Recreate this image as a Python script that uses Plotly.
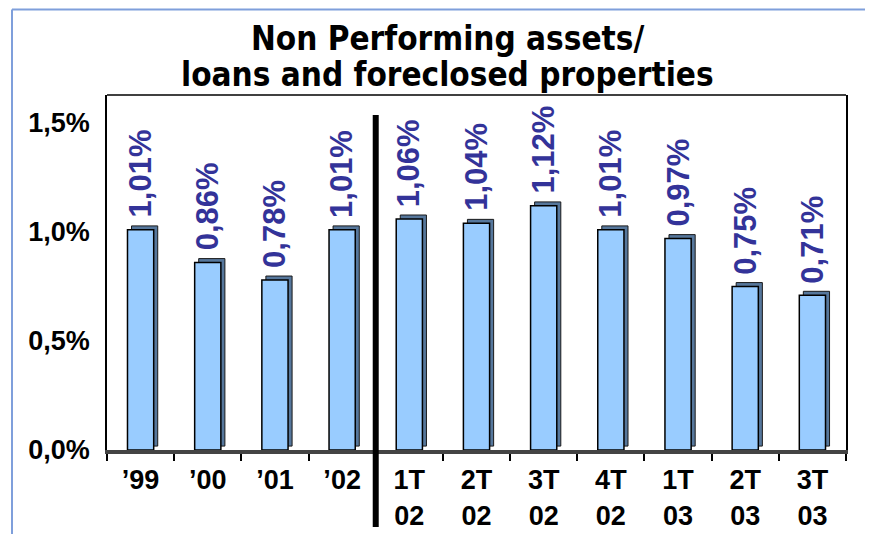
import plotly.graph_objects as go

categories = ["’99", "’00", "’01", "’02", "1T<br>02", "2T<br>02", "3T<br>02",
              "4T<br>02", "1T<br>03", "2T<br>03", "3T<br>03"]
values = [1.01, 0.86, 0.78, 1.01, 1.06, 1.04, 1.12, 1.01, 0.97, 0.75, 0.71]
value_labels = ["1,01%", "0,86%", "0,78%", "1,01%", "1,06%", "1,04%", "1,12%",
                "1,01%", "0,97%", "0,75%", "0,71%"]
y_ticks = [0.0, 0.5, 1.0, 1.5]
y_tick_labels = ["0,0%", "0,5%", "1,0%", "1,5%"]
title_lines = ["Non Performing assets/", "loans and foreclosed properties"]

W, H = 873, 534
OFF = 8  # page body margin offset
# plot area in window pixels: left 107, right 846, top 95, bottom 450
L, R, T, B = 107 - OFF, W - 846 + OFF, 95 - OFF, H - 450 + OFF
plot_h = H - T - B
plot_w = W - L - R

bar_w = 0.39
depth_x = 0.06
depth_y = 0.018

fig = go.Figure()
# 3D side/top face (drawn behind the front face)
fig.add_trace(go.Bar(
    x=categories, y=values, base=[depth_y] * len(values),
    width=bar_w, offset=-bar_w / 2 + depth_x,
    marker=dict(color="#56779C", line=dict(color="#1a1a1a", width=1)),
    hoverinfo="skip", showlegend=False,
))
# front face
fig.add_trace(go.Bar(
    x=categories, y=values,
    width=bar_w, offset=-bar_w / 2,
    marker=dict(color="#99CCFF", line=dict(color="#000000", width=1.5)),
    showlegend=False,
))

for c, v, t in zip(categories, values, value_labels):
    fig.add_annotation(
        x=c, y=v, text=t, textangle=-90, showarrow=False,
        xanchor="center", yanchor="bottom", yshift=10,
        font=dict(family="Liberation Sans, Arial", size=31, color="#333399", weight="bold"),
    )

def py(ypx):  # window pixel -> paper y
    return (H - B - (ypx - OFF)) / plot_h

def px_(xpx):  # window pixel -> paper x
    return ((xpx - OFF) - L) / plot_w

title_y = [38, 74]
for txt, yy in zip(title_lines, title_y):
    fig.add_annotation(
        x=px_(447), xref="paper", y=py(yy), yref="paper", text=txt, showarrow=False,
        xanchor="center", yanchor="middle",
        font=dict(family="DejaVu Sans Condensed, DejaVu Sans", size=33, color="#000000", weight="bold"),
    )

# divider line between annual and quarterly data
fig.add_shape(type="line", xref="x", yref="paper",
              x0=3.5, x1=3.5, y0=py(527), y1=py(115),
              line=dict(color="#000000", width=6))

# slide frame lines
fig.add_shape(type="line", xref="paper", yref="paper",
              x0=px_(12), x1=px_(W + 10), y0=py(9.5), y1=py(9.5),
              line=dict(color="#7F9FDB", width=2))
fig.add_shape(type="line", xref="paper", yref="paper",
              x0=px_(12), x1=px_(12), y0=py(9.5), y1=py(H + 10),
              line=dict(color="#7F9FDB", width=2))

fig.update_layout(
    width=W, height=H,
    margin=dict(l=L, r=R, t=T, b=B),
    paper_bgcolor="white", plot_bgcolor="white",
    barmode="overlay",
    showlegend=False,
)
fig.update_xaxes(
    type="category", range=[-0.5, len(categories) - 0.5],
    showline=True, linecolor="#444444", linewidth=4, mirror=False,
    ticks="outside", tickson="boundaries", ticklen=7, tickcolor="#000000", tickwidth=1.5,
    ticklabelstandoff=3,
    tickfont=dict(family="Liberation Sans, Arial", size=27, color="#000000", weight="bold"),
    showgrid=False, zeroline=False,
)
fig.update_yaxes(
    range=[0, plot_h / 218.0],
    tickvals=y_ticks, ticktext=y_tick_labels,
    showline=True, linecolor="#000000", linewidth=1.5, mirror=True,
    ticks="outside", ticklen=10, tickcolor="rgba(0,0,0,0)",
    tickfont=dict(family="Liberation Sans, Arial", size=27, color="#000000", weight="bold"),
    showgrid=False, zeroline=False,
)
# top border of the back wall
fig.add_shape(type="line", xref="paper", yref="paper", x0=0, x1=1, y0=1, y1=1,
              line=dict(color="#000000", width=1.5))

fig.write_html("out.html")
